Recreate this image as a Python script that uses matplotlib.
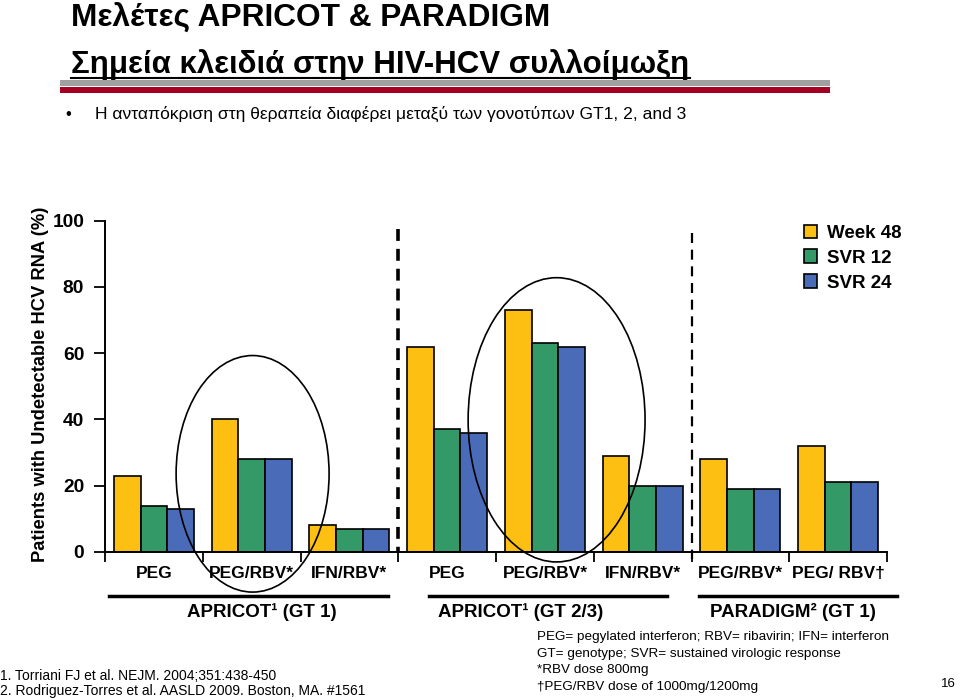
import os
import matplotlib
matplotlib.use("Agg")
import matplotlib.pyplot as plt
from matplotlib.patches import Ellipse, Rectangle
from matplotlib import font_manager
import numpy as np

# data
categories = ["PEG", "PEG/RBV*", "IFN/RBV*", "PEG", "PEG/RBV*", "IFN/RBV*",
              "PEG/RBV*", "PEG/ RBV\u2020"]
week48 = [23, 40, 8, 62, 73, 29, 28, 32]
svr12 = [14, 28, 7, 37, 63, 20, 19, 21]
svr24 = [13, 28, 7, 36, 62, 20, 19, 21]
series_names = ["Week 48", "SVR 12", "SVR 24"]
series_colors = ["#FDBF12", "#339966", "#4A6CB8"]
groups = ["APRICOT\u00b9 (GT 1)", "APRICOT\u00b9 (GT 2/3)", "PARADIGM\u00b2 (GT 1)"]
yticks = [0, 20, 40, 60, 80, 100]

# look for a narrow bold face (Arial Narrow look-alike); fall back to plain Liberation
narrow_file = None
for f in font_manager.fontManager.ttflist:
    base = os.path.basename(f.fname)
    if "LiberationSansNarrow-Bold." in base:
        narrow_file = f.fname
        break
SANS = "Liberation Sans"
plt.rcParams['font.family'] = [SANS, 'DejaVu Sans']


def narrow(size):
    if narrow_file:
        return font_manager.FontProperties(fname=narrow_file, size=size)
    # no narrow face: smaller regular bold so widths roughly match
    return font_manager.FontProperties(family=SANS, weight='bold', size=size * 0.86)


W, H = 960, 700
fig = plt.figure(figsize=(9.6, 7), dpi=100)


def px(x, y):
    return x / W, 1 - y / H


# title block
fig.text(*px(71, 19), "Μελέτες APRICOT & PARADIGM", fontproperties=narrow(26.5),
         va='center', ha='left')
fig.text(*px(71, 65), "Σημεία κλειδιά στην HIV-HCV συλλοίμωξη", fontproperties=narrow(26.2),
         va='center', ha='left')
fig.add_artist(plt.Line2D([71 / W, 690 / W], [1 - 78 / H] * 2, color='black', lw=1.5))
fig.add_artist(Rectangle(px(60, 86), 770 / W, 6 / H, color='#A0A0A0', lw=0))
fig.add_artist(Rectangle(px(60, 93), 770 / W, 6 / H, color='#A50021', lw=0))
fig.text(*px(65, 114), "\u2022", fontsize=12, va='center')
fig.text(*px(95, 114), "Η ανταπόκριση στη θεραπεία διαφέρει μεταξύ των γονοτύπων GT1, 2, and 3",
         fontsize=12.6, va='center')

# chart
ax = fig.add_axes([105 / W, 1 - 552 / H, (887 - 105) / W, (552 - 220.7) / H])
x = np.arange(len(categories))
bw = 0.272
for i, (vals, name, col) in enumerate(zip([week48, svr12, svr24], series_names, series_colors)):
    ax.bar(x + (i - 1) * bw, vals, bw, color=col, edgecolor='black', linewidth=1.2,
           label=name, zorder=2)

ax.set_xlim(-0.5, len(categories) - 0.5)
ax.set_ylim(0, 100)
ax.set_yticks(yticks)
ax.set_yticklabels([str(v) for v in yticks], fontproperties=narrow(16))
ax.set_xticks(x)
ax.set_xticklabels(categories, fontproperties=narrow(14.5))
ax.set_xticks(np.arange(-0.5, len(categories)), minor=True)
ax.tick_params(axis='x', which='major', length=0, pad=10)
ax.tick_params(axis='x', which='minor', length=7, width=1.3, direction='out')
ax.tick_params(axis='y', length=8, width=1.3, direction='out', pad=7)
for s in ['top', 'right']:
    ax.spines[s].set_visible(False)
for s in ['left', 'bottom']:
    ax.spines[s].set_linewidth(1.4)
ax.set_ylabel("Patients with Undetectable HCV RNA (%)", fontweight='bold', fontsize=13.2)
ax.yaxis.set_label_coords(-0.071, 0.505)

# separators between studies
ax.plot([2.5, 2.5], [97.6, 0], color='black', lw=2.6, dashes=(3.3, 2.2), clip_on=False, zorder=3)
ax.plot([5.5, 5.5], [96.4, -2], color='black', lw=1.6, dashes=(4.5, 3), clip_on=False, zorder=3)

# circles around PEG/RBV groups
ax.add_patch(Ellipse((1.01, 23.6), 1.565, 71.4, fill=False, edgecolor='black', lw=1.2,
                     clip_on=False, zorder=4))
ax.add_patch(Ellipse((4.12, 39.9), 1.81, 85.8, fill=False, edgecolor='black', lw=1.2,
                     clip_on=False, zorder=4))

# study group brackets and labels
group_spans = [(109, 388), (429, 667), (699, 897)]
group_centers = [262, 521, 793]
for (x0, x1), xc, g in zip(group_spans, group_centers, groups):
    fig.add_artist(plt.Line2D([x0 / W, x1 / W], [1 - 596 / H] * 2, color='black', lw=2.5))
    fig.text(*px(xc, 612), g, fontsize=13.5, fontweight='bold', ha='center', va='center')

# legend
leg = ax.legend(loc='upper left', bbox_to_anchor=(796 / W, 1 - 217 / H),
                bbox_transform=fig.transFigure, frameon=False, fontsize=13.5,
                handlelength=0.7, handleheight=0.75, handletextpad=0.55, labelspacing=0.4,
                borderaxespad=0)
for t in leg.get_texts():
    t.set_fontweight('bold')

# footnotes
fig.text(*px(0, 676), "1. Torriani FJ et al. NEJM. 2004;351:438-450", fontsize=10, va='center')
fig.text(*px(0, 691), "2. Rodriguez-Torres et al. AASLD 2009. Boston, MA. #1561", fontsize=10,
         va='center')
notes = ["PEG= pegylated interferon; RBV= ribavirin; IFN= interferon",
         "GT= genotype; SVR= sustained virologic response",
         "*RBV dose 800mg",
         "\u2020PEG/RBV dose of 1000mg/1200mg"]
for k, n in enumerate(notes):
    fig.text(*px(537, 637 + k * 16.7), n, fontsize=9.7, va='center')
fig.text(*px(948, 684), "16", fontsize=9.5, va='center', ha='center')

fig.savefig("out.png", dpi=100)
